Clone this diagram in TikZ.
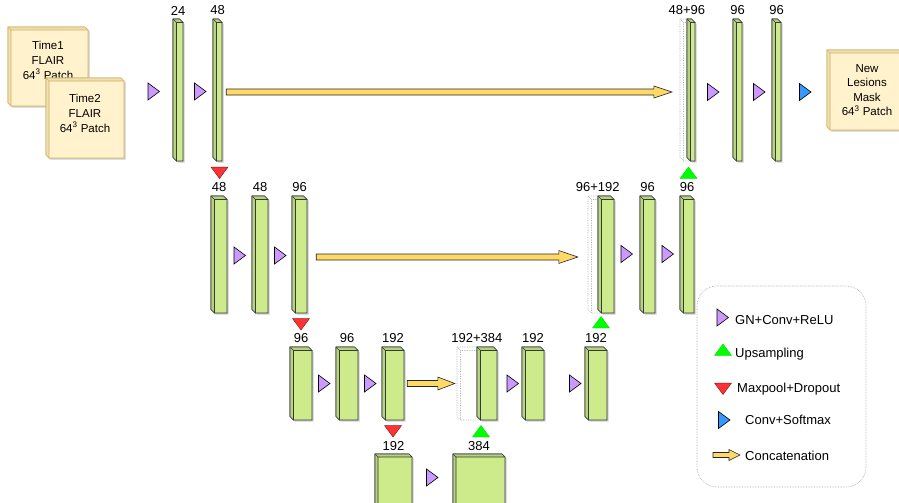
\documentclass[tikz,border=0pt]{standalone}
\usepackage{fontspec}
\setmainfont{Liberation Sans}
\usetikzlibrary{positioning,fit,calc}

\definecolor{blkgreen}{HTML}{CDEB8B}
\definecolor{blkline}{HTML}{36393D}
\definecolor{inyellow}{HTML}{FFF2CC}
\definecolor{inline}{HTML}{D6B656}
\definecolor{convpurple}{HTML}{CC99FF}
\definecolor{uppgreen}{HTML}{00FF00}
\definecolor{poolred}{HTML}{FF3333}
\definecolor{softblue}{HTML}{3399FF}
\definecolor{catyellow}{HTML}{FFD966}

\newcommand{\blkdepth}{3.5}

% cube block: style, name, x0, y0, x1, y1
\newcommand{\cubeblk}[6][blk]{%
  \begin{scope}[shift={(1.5,1.5)}]
    \fill[gray!40] (#3,#4) -- ({#5-\blkdepth},#4) -- (#5,{#4+\blkdepth}) -- (#5,#6) -- ({#3+\blkdepth},#6) -- (#3,{#6-\blkdepth}) -- cycle;
  \end{scope}
  \filldraw[#1] (#3,#4) -- ({#5-\blkdepth},#4) -- (#5,{#4+\blkdepth}) -- (#5,#6) -- ({#3+\blkdepth},#6) -- (#3,{#6-\blkdepth}) -- cycle;
  \filldraw[#1,#1 side] (#3,#4) -- ({#5-\blkdepth},#4) -- (#5,{#4+\blkdepth}) -- ({#3+\blkdepth},{#4+\blkdepth}) -- ({#3+\blkdepth},#6) -- (#3,{#6-\blkdepth}) -- cycle;
  \draw[#1,fill=none] (#3,#4) -- ({#3+\blkdepth},{#4+\blkdepth});
  \node[inner sep=0pt,fit={(#3,#4) (#5,#6)}] (#2) {};
}

% dotted cube for the skip part: name, x0, y0, x1, y1
\newcommand{\ghostblk}[5]{%
  \draw[ghost] (#2,#3) -- ({#4-\blkdepth},#3) -- (#4,{#3+\blkdepth}) -- (#4,#5) -- ({#2+\blkdepth},#5) -- (#2,{#5-\blkdepth}) -- cycle
    (#2,#3) -- ({#2+\blkdepth},{#3+\blkdepth}) -- ({#2+\blkdepth},#5) ({#2+\blkdepth},{#3+\blkdepth}) -- (#4,{#3+\blkdepth});
  \node[inner sep=0pt,fit={(#2,#3) (#4,#5)}] (#1) {};
}

% concatenation arrow: from, to, half shaft, half head, head length
\newcommand{\catarrow}[5]{%
  \filldraw[cat] let \p1=(#1), \p2=(#2) in
    (\x1,{\y1+#3}) -- ({\x2-#5},{\y1+#3}) -- ({\x2-#5},{\y1+#4}) -- (\x2,\y1) -- ({\x2-#5},{\y1-#4}) -- ({\x2-#5},{\y1-#3}) -- (\x1,{\y1-#3}) -- cycle;
}

\begin{document}
\begin{tikzpicture}[x=1pt,y=-1pt,
    font=\fontsize{13}{15}\selectfont,
    blk/.style={draw=blkline,fill=blkgreen,line width=0.6pt},
    blk side/.style={fill=blkgreen!90!black},
    inbox/.style={draw=inline,fill=inyellow,line width=0.6pt},
    inbox side/.style={fill=inyellow!92!black},
    ghost/.style={draw=gray!65,densely dotted,line width=0.7pt},
    cat/.style={draw=black!85,fill=catyellow,line width=0.6pt},
    lbl/.style={inner sep=0pt},
    boxtxt/.style={align=center,inner sep=0pt,font=\fontsize{11.5}{15}\selectfont},
    lgtxt/.style={anchor=base west,inner sep=0pt},
    convtri/.pic={\filldraw[draw=black,fill=convpurple,line width=0.6pt] (-5.5,-8.5) -- (6,0) -- (-5.5,8.5) -- cycle;},
    softtri/.pic={\filldraw[draw=black,fill=softblue,line width=0.6pt] (-5.5,-8.5) -- (6,0) -- (-5.5,8.5) -- cycle;},
    uptri/.pic={\filldraw[draw=uppgreen!85!black,fill=uppgreen,line width=0.4pt] (-8.5,5.5) -- (8.5,5.5) -- (0,-6) -- cycle;},
    downtri/.pic={\filldraw[draw=poolred!55!black,fill=poolred,line width=0.5pt] (-8.5,-5.5) -- (8.5,-5.5) -- (0,6) -- cycle;}]

\useasboundingbox (0,0) rectangle (899,503);
\clip (0,0) rectangle (899,503);

%Inputs================================================================
\renewcommand{\blkdepth}{3}
\cubeblk[inbox]{in1}{8}{27}{88}{106}
\node[boxtxt] (in1txt) at ([yshift=6.5pt]in1.center) {Time1\\FLAIR\\64\textsuperscript{3} Patch};
\cubeblk[inbox]{in2}{46}{78}{124}{158}
\node[boxtxt] (in2txt) at ([yshift=5pt]in2.center) {Time2\\FLAIR\\64\textsuperscript{3} Patch};

%Level1================================================================
\renewcommand{\blkdepth}{3.5}
\cubeblk{e1a}{173}{19}{183}{161}
\cubeblk{e1b}{213}{19}{222}{161}
\ghostblk{g1}{680}{19}{691}{161}
\cubeblk{u1}{687}{19}{695}{161}
\cubeblk{d1a}{733}{19}{742}{161}
\cubeblk{d1b}{772}{19}{781}{161}
\node[lbl,above=3.5pt of e1a] (l1a) {24};
\node[lbl,above=3.5pt of e1b] (l1b) {48};
\node[lbl,above=3.5pt of u1.north west] (l1u) {48+96};
\node[lbl,above=3.5pt of d1a] (l1c) {96};
\node[lbl,above=3.5pt of d1b] (l1d) {96};
\pic at (153.5,91.5) {convtri};
\pic at (200,91.5) {convtri};
\pic at (713,92) {convtri};
\pic at (759,92) {convtri};
\pic at (805,92) {softtri};
\pic at (219.5,172.5) {downtri};
\pic at (688.5,173) {uptri};
\catarrow{[shift={(4pt,-2pt)}]e1b.east}{[xshift=-8pt]g1.west}{3pt}{6pt}{18pt}

%Output================================================================
\renewcommand{\blkdepth}{3}
\cubeblk[inbox]{out}{827}{50}{907}{130}
\node[boxtxt,font=\fontsize{11.5}{14.5}\selectfont] (outtxt) at (out.center) {New\\Lesions\\Mask\\64\textsuperscript{3} Patch};

%Level2================================================================
\renewcommand{\blkdepth}{3.5}
\cubeblk{e2a}{211}{196}{227}{313}
\cubeblk{e2b}{252}{196}{268}{313}
\cubeblk{e2c}{292}{196}{307}{313}
\ghostblk{g2}{588}{196}{601}{313}
\cubeblk{u2}{598}{196}{614}{313}
\cubeblk{d2a}{640}{196}{655}{313}
\cubeblk{d2b}{680}{196}{694}{313}
\node[lbl,above=3.5pt of e2a] (l2a) {48};
\node[lbl,above=3.5pt of e2b] (l2b) {48};
\node[lbl,above=3.5pt of e2c] (l2c) {96};
\node[lbl,above=3.5pt of u2.north west] (l2u) {96+192};
\node[lbl,above=3.5pt of d2a] (l2d) {96};
\node[lbl,above=3.5pt of d2b] (l2e) {96};
\pic at (239.5,255.5) {convtri};
\pic at (280,255.5) {convtri};
\pic at (626.5,254) {convtri};
\pic at (667.5,254) {convtri};
\pic at (301,324) {downtri};
\pic at (601,322.5) {uptri};
\catarrow{[shift={(9pt,-2.5pt)}]e2c.east}{[xshift=-10pt]g2.west}{3pt}{6.5pt}{19pt}

%Level3================================================================
\cubeblk{e3a}{290}{347}{312}{420}
\cubeblk{e3b}{336}{347}{358}{420}
\cubeblk{e3c}{382}{347}{404}{420}
\ghostblk{g3}{457}{347}{481}{420}
\cubeblk{u3}{477}{347}{497}{420}
\cubeblk{d3a}{522}{347}{544}{420}
\cubeblk{d3b}{585}{347}{607}{420}
\node[lbl,above=3.5pt of e3a] (l3a) {96};
\node[lbl,above=3.5pt of e3b] (l3b) {96};
\node[lbl,above=3.5pt of e3c] (l3c) {192};
\node[lbl,above=3.5pt of u3.north west] (l3u) {192+384};
\node[lbl,above=3.5pt of d3a] (l3d) {192};
\node[lbl,above=3.5pt of d3b] (l3e) {192};
\pic at (324,383.5) {convtri};
\pic at (370,383.5) {convtri};
\pic at (512.5,383.5) {convtri};
\pic at (575,383.5) {convtri};
\pic at (393,431) {downtri};
\pic at (481,431.5) {uptri};
\catarrow{[xshift=3pt]e3c.east}{[xshift=-2pt]g3.west}{3pt}{6.5pt}{17pt}

%Level4================================================================
\renewcommand{\blkdepth}{3}
\cubeblk{b4a}{375}{454}{412}{508}
\cubeblk{b4b}{453}{454}{505}{508}
\node[lbl,above=2.5pt of b4a] (l4a) {192};
\node[lbl,above=2.5pt of b4b] (l4b) {384};
\pic at (432,477.5) {convtri};

%Legend================================================================
\draw[gray!75,densely dotted,line width=0.6pt,rounded corners=20pt] (697,286) rectangle (866,487);
\pic at (722.5,317.5) {convtri};
\node[lgtxt] (lgconv) at (735,324) {GN+Conv+ReLU};
\pic at (723,350) {uptri};
\node[lgtxt] (lgup) at (735,357) {Upsampling};
\pic at (723,388.5) {downtri};
\node[lgtxt] (lgpool) at (737,392) {Maxpool+Dropout};
\pic at (724,420) {softtri};
\node[lgtxt] (lgsoft) at (745,424) {Conv+Softmax};
\coordinate (lgcatA) at (713,455);
\coordinate (lgcatB) at (740,455);
\catarrow{lgcatA}{lgcatB}{2.5pt}{5.5pt}{11pt}
\node[lgtxt] (lgcat) at (745,460) {Concatenation};

\end{tikzpicture}
\end{document}
